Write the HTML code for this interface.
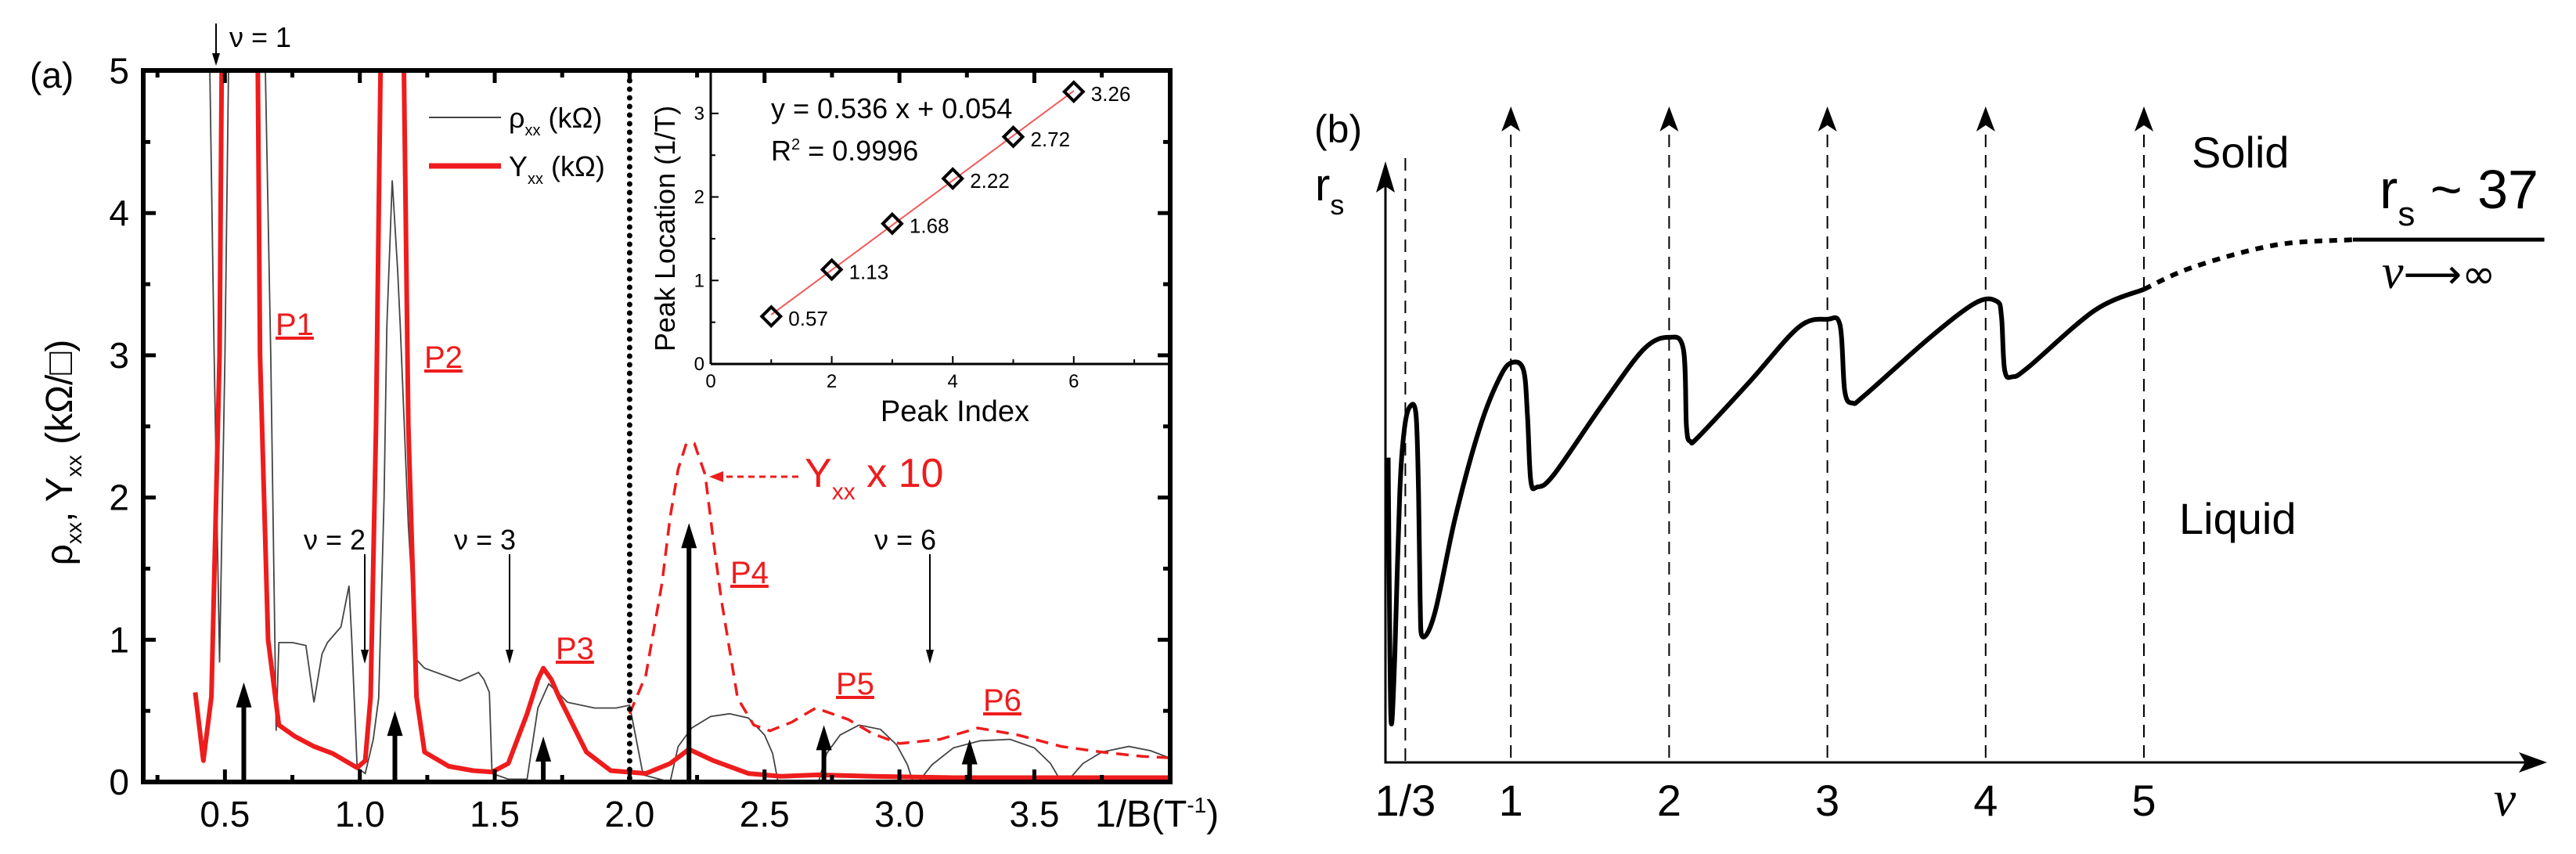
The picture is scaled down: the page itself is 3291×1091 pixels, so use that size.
<!DOCTYPE html>
<html><head><meta charset="utf-8"><style>
html,body{margin:0;padding:0;background:#fff}
svg{display:block;font-family:"Liberation Sans",sans-serif}
</style></head><body>
<svg id="fig" width="3291" height="1091" viewBox="0 0 3291 1091" xmlns="http://www.w3.org/2000/svg">
<defs><clipPath id="clipA"><rect x="183" y="90" width="1312" height="909"/></clipPath></defs>
<g id="panelA"></g>
<g id="panelB"></g>
</svg>
<script>
// ---------- Panel (a) data ----------
const redX=[0.39,0.42,0.45,0.48,0.49,0.52,0.6,0.62,0.63,0.66,0.70,0.76,0.83,0.90,0.99,1.02,1.04,1.06,1.08,1.12,1.16,1.18,1.21,1.24,1.33,1.42,1.49,1.55,1.62,1.66,1.68,1.71,1.74,1.84,1.93,2.06,2.15,2.22,2.31,2.44,2.56,2.7,2.9,3.2,3.6,4.0];
const redY=[0.63,0.15,0.6,3.0,5.5,8,8,5.5,3,1.0,0.40,0.32,0.25,0.2,0.10,0.15,0.6,2.5,5.5,8,5.5,2.5,0.6,0.21,0.11,0.08,0.07,0.13,0.48,0.72,0.80,0.72,0.59,0.21,0.08,0.06,0.13,0.23,0.15,0.06,0.04,0.05,0.04,0.03,0.03,0.03];
const dashX=[2.0,2.06,2.12,2.15,2.18,2.21,2.24,2.28,2.31,2.34,2.40,2.46,2.52,2.6,2.69,2.81,2.9,3.0,3.15,3.29,3.44,3.6,3.75,3.9,4.0];
const dashY=[0.48,0.75,1.4,1.86,2.2,2.38,2.38,2.16,1.7,1.28,0.59,0.40,0.36,0.42,0.52,0.44,0.34,0.27,0.30,0.38,0.33,0.25,0.21,0.18,0.17];
const rhoX=[0.44,0.46,0.48,0.50,0.52,0.6,0.64,0.67,0.69,0.70,0.75,0.80,0.83,0.86,0.88,0.93,0.96,0.97,0.99,1.02,1.05,1.07,1.09,1.10,1.12,1.14,1.15,1.18,1.21,1.24,1.37,1.44,1.46,1.48,1.49,1.55,1.62,1.66,1.70,1.77,1.87,1.95,2.0,2.05,2.15,2.18,2.23,2.3,2.37,2.44,2.5,2.53,2.55,2.70,2.73,2.78,2.85,2.93,2.99,3.03,3.05,3.07,3.12,3.2,3.3,3.41,3.5,3.56,3.6,3.62,3.68,3.75,3.85,3.93,4.0];
const rhoY=[5.5,3,0.84,3,6,6,6,3,0.36,0.98,0.98,0.96,0.56,0.9,0.98,1.09,1.38,1.0,0.10,0.06,0.3,0.59,2.0,3.2,4.23,3.6,3.2,1.8,0.86,0.80,0.71,0.77,0.72,0.63,0.06,0.02,0.02,0.52,0.69,0.56,0.52,0.52,0.54,0.05,0.0,0.25,0.38,0.46,0.48,0.45,0.33,0.2,0.0,0.0,0.2,0.33,0.40,0.37,0.26,0.12,0.0,0.0,0.12,0.24,0.29,0.30,0.24,0.13,0.0,0.0,0.13,0.21,0.25,0.22,0.17];
const arrX=[0.57,1.13,1.68,2.22,2.72,3.26];
const arrH=[0.70,0.50,0.32,1.82,0.40,0.30];
const xTicksA=[0.5,1.0,1.5,2.0,2.5,3.0,3.5];
const xTickLabelsA=["0.5","1.0","1.5","2.0","2.5","3.0","3.5"];
const yTicksA=[0,1,2,3,4,5];
const insetIdx=[1,2,3,4,5,6];
const insetLoc=[0.57,1.13,1.68,2.22,2.72,3.26];
const insetLabels=["0.57","1.13","1.68","2.22","2.72","3.26"];
const insetSlope=0.536, insetIntercept=0.054;
// ---------- Panel (b) data ----------
const nuB=[0.225,0.236,0.246,0.267,0.298,0.329,0.365,0.401,0.417,0.427,0.442,0.52,0.65,0.805,0.934,1.01,1.08,1.105,1.126,1.167,1.27,1.585,1.84,2.0,2.09,2.11,2.135,2.19,2.51,2.82,3.0,3.08,3.11,3.16,3.24,3.65,3.94,4.07,4.1,4.12,4.17,4.27,4.69,5.0];
const rsB=[50.9,18,6.4,18,45,56,59.5,58,45,27,21,25,41,56,64.5,66.8,65.5,58,47,46,48,60,69,71,69,56,53.6,54.5,63.6,72.7,74,73,62,60,61.4,71,76.8,77,74.5,65.5,64.4,66,75.5,79];
const nuDot=[5.0,5.31,5.83,6.32];
const rsDot=[79,82.7,86.4,87.3];
const nuTicksB=[1/3,1,2,3,4,5];
const nuTickLabelsB=["1/3","1","2","3","4","5"];

const NS="http://www.w3.org/2000/svg";
function mk(parent,tag,attrs,text){const e=document.createElementNS(NS,tag);for(const k in attrs)e.setAttribute(k,attrs[k]);if(text!==undefined)e.textContent=text;parent.appendChild(e);return e;}

const ax=v=>115+v*344.7, ay=v=>999-v*181.7;
const ix=v=>908+v*77.3, iy=v=>465-v*106.7;
const A=document.getElementById('panelA');

const clipG=mk(A,'g',{'clip-path':'url(#clipA)'});


function poly(xs,ys,fx,fy){return xs.map((x,i)=>(i?'L':'M')+fx(x).toFixed(1)+' '+fy(ys[i]).toFixed(1)).join(' ');}
const rho=mk(clipG,'path',{d:poly(rhoX,rhoY,ax,ay),fill:'none',stroke:'#444',"stroke-width":1.8});


const red=mk(clipG,'path',{d:poly(redX,redY,ax,ay),fill:'none',stroke:'#ee1c1c',"stroke-width":6,"stroke-linejoin":"round"});


const dsh=mk(clipG,'path',{d:poly(dashX,dashY,ax,ay),fill:'none',stroke:'#ee1c1c',"stroke-width":3.5,"stroke-dasharray":"16 10"});


const dv=mk(A,'line',{x1:ax(2),x2:ax(2),y1:92,y2:997,stroke:'#000',"stroke-width":7,"stroke-dasharray":"0 11","stroke-linecap":"round"});


arrX.forEach((x,i)=>{
  const g=mk(A,'g',{});
  
  
  const X=ax(x),top=ay(arrH[i]);
  mk(g,'line',{x1:X,x2:X,y1:999,y2:top+25,stroke:'#000',"stroke-width":6});
  mk(g,'path',{d:`M${X} ${top} L${X-10} ${top+32} L${X+10} ${top+32} Z`,fill:'#000'});
});
const fr=mk(A,'rect',{x:183,y:90,width:1312,height:909,fill:'none',stroke:'#000',"stroke-width":6});


for(let v=0.25;v<=3.76;v+=0.25){const X=ax(v),maj=Math.abs(v*2-Math.round(v*2))<1e-6,L=maj?16:9;
  mk(A,'line',{x1:X,x2:X,y1:999,y2:999-L,stroke:'#000',"stroke-width":5});
  mk(A,'line',{x1:X,x2:X,y1:90,y2:90+L,stroke:'#000',"stroke-width":5});}
for(let v=0.5;v<5;v+=0.5){const Y=ay(v),maj=Number.isInteger(v),L=maj?16:9;
  mk(A,'line',{x1:183,x2:183+L,y1:Y,y2:Y,stroke:'#000',"stroke-width":5});
  mk(A,'line',{x1:1495,x2:1495-L,y1:Y,y2:Y,stroke:'#000',"stroke-width":5});}
xTicksA.forEach((v,i)=>{const t=mk(A,'text',{x:ax(v),y:1056,"font-size":46,"text-anchor":"middle"},xTickLabelsA[i]);
  
  });
yTicksA.forEach(v=>{const t=mk(A,'text',{x:165,y:ay(v)+16,"font-size":46,"text-anchor":"end"},String(v));
  
  });
const I=mk(A,'g',{});


mk(I,'line',{x1:ix(0),x2:ix(0),y1:92,y2:iy(0),stroke:'#000',"stroke-width":3});
mk(I,'line',{x1:ix(0),x2:1492,y1:iy(0),y2:iy(0),stroke:'#000',"stroke-width":3});
for(let v=0;v<=7;v++){const X=ix(v),L=v%2==0?10:6;mk(I,'line',{x1:X,x2:X,y1:iy(0),y2:iy(0)-L,stroke:'#000',"stroke-width":2});}
for(let v=0;v<=3.01;v+=0.5){const Y=iy(v),L=Number.isInteger(v)?10:6;mk(I,'line',{x1:ix(0),x2:ix(0)+L,y1:Y,y2:Y,stroke:'#000',"stroke-width":2});}
[0,2,4,6].forEach(v=>{const t=mk(I,'text',{x:ix(v),y:iy(0)+30,"font-size":24,"text-anchor":"middle"},String(v));
  
  });
[0,1,2,3].forEach(v=>{const t=mk(I,'text',{x:ix(0)-8,y:iy(v)+8,"font-size":24,"text-anchor":"end"},String(v));
  
  });
const fit=mk(I,'line',{x1:ix(1),y1:iy(insetSlope*1+insetIntercept),x2:ix(6),y2:iy(insetSlope*6+insetIntercept),stroke:'#f25a5a',"stroke-width":2});


insetIdx.forEach((x,i)=>{const X=ix(x),Y=iy(insetLoc[i]);
  const p=mk(I,'path',{d:`M${X} ${Y-12} L${X+12} ${Y} L${X} ${Y+12} L${X-12} ${Y} Z`,fill:'none',stroke:'#000',"stroke-width":4});
  
  
  const t=mk(I,'text',{x:X+22,y:Y+12,"font-size":26},insetLabels[i]);
  
  });
let t;
t=mk(I,'text',{x:985,y:151,"font-size":36},'y = 0.536 x + 0.054');
t=mk(I,'text',{x:985,y:205,"font-size":36},'R');
mk(t,'tspan',{dy:-14,"font-size":20},'2');mk(t,'tspan',{dy:14},' = 0.9996');
t=mk(I,'text',{x:1220,y:538,"font-size":38,"text-anchor":"middle"},'Peak Index');
t=mk(I,'text',{x:0,y:0,"font-size":36,"text-anchor":"middle",transform:'translate(862,292) rotate(-90)'},'Peak Location (1/T)');
const lg=mk(A,'g',{});
mk(lg,'line',{x1:548,x2:640,y1:150,y2:150,stroke:'#444',"stroke-width":2});
t=mk(lg,'text',{x:650,y:163,"font-size":36},'ρ');mk(t,'tspan',{dy:10,"font-size":20},'xx');mk(t,'tspan',{dy:-10},' (kΩ)');
mk(lg,'line',{x1:548,x2:640,y1:212,y2:212,stroke:'#ee1c1c',"stroke-width":7});
t=mk(lg,'text',{x:650,y:225,"font-size":36},'Y');mk(t,'tspan',{dy:10,"font-size":20},'xx');mk(t,'tspan',{dy:-10},' (kΩ)');
function label(x,y,s,name,size,color,anchor){const e=mk(A,'text',{x:x,y:y,"font-size":size||38,fill:color||'#000',"text-anchor":anchor||'start'},s);return e;}
label(38,112,'(a)','panel-a-label',46);
label(293,60,'ν = 1','nu-1-label',36);
mk(A,'line',{x1:276,x2:276,y1:30,y2:78,stroke:'#000',"stroke-width":2});mk(A,'path',{d:'M276 84 L271 68 L281 68 Z',fill:'#000'});
[[388,466,'ν = 2'],[580,651,'ν = 3'],[1117,1188,'ν = 6']].forEach(a=>{label(a[0],702,a[2],'nu-annotation',36);
  mk(A,'line',{x1:a[1],x2:a[1],y1:708,y2:840,stroke:'#000',"stroke-width":2});mk(A,'path',{d:`M${a[1]} 848 L${a[1]-5} 830 L${a[1]+5} 830 Z`,fill:'#000'});});
[[352,428,'P1'],[542,470,'P2'],[710,842,'P3'],[933,745,'P4'],[1068,887,'P5'],[1256,908,'P6']].forEach(p=>{
  const e=label(p[0],p[1],p[2],'peak-label-'+p[2].toLowerCase(),40,'#ee1c1c');e.setAttribute('text-decoration','underline');});
t=label(1028,622,'Y','y-xx-x10-label',52,'#ee1c1c');mk(t,'tspan',{dy:16,"font-size":30},'xx');mk(t,'tspan',{dy:-16},' x 10');
mk(A,'line',{x1:1020,x2:918,y1:609,y2:609,stroke:'#ee1c1c',"stroke-width":3,"stroke-dasharray":"8 6"});
mk(A,'path',{d:'M906 609 L924 602 L924 616 Z',fill:'#ee1c1c'});
t=label(1399,1056,'1/B(T','x-axis-title',48);mk(t,'tspan',{dy:-18,"font-size":28},'-1');mk(t,'tspan',{dy:18},')');
t=mk(A,'text',{x:0,y:0,"font-size":48,"text-anchor":"middle",transform:'translate(92,578) rotate(-90)'},'ρ');

mk(t,'tspan',{dy:12,"font-size":28},'xx');mk(t,'tspan',{dy:-12},', Y');mk(t,'tspan',{dy:12,"font-size":28},'xx');mk(t,'tspan',{dy:-12},' (kΩ/□)');

// ---------- Panel (b) ----------
const B=document.getElementById('panelB');
const bx=n=>1728+n*202.2, by=v=>974-v*7.65;
function smooth(xs,ys){const P=xs.map((x,i)=>[bx(x),by(ys[i])]);let d='M'+P[0][0].toFixed(1)+' '+P[0][1].toFixed(1);
  for(let i=0;i<P.length-1;i++){const p0=P[Math.max(0,i-1)],p1=P[i],p2=P[i+1],p3=P[Math.min(P.length-1,i+2)];
    const c1=[p1[0]+(p2[0]-p0[0])/6,p1[1]+(p2[1]-p0[1])/6],c2=[p2[0]-(p3[0]-p1[0])/6,p2[1]-(p3[1]-p1[1])/6];
    d+=` C${c1[0].toFixed(1)} ${c1[1].toFixed(1)} ${c2[0].toFixed(1)} ${c2[1].toFixed(1)} ${p2[0].toFixed(1)} ${p2[1].toFixed(1)}`;}return d;}
nuTicksB.forEach((n,i)=>{const X=bx(n);
  const l=mk(B,'line',{x1:X,x2:X,y1:i===0?202:172,y2:974,stroke:'#000',"stroke-width":2,"stroke-dasharray":"16 10"});
  
  
  if(i>0){mk(B,'path',{d:`M${X} 136 L${X-12} 168 L${X} 160 L${X+12} 168 Z`,fill:'#000'});}
  const tl=mk(B,'text',{x:X,y:1042,"font-size":56,"text-anchor":"middle"},nuTickLabelsB[i]);
  
  });
const axs=mk(B,'path',{d:'M1770 212 L1770 974 L3240 974',fill:'none',stroke:'#000',"stroke-width":3});

mk(B,'path',{d:'M1770 206 L1758 246 L1770 238 L1782 246 Z',fill:'#000'});
mk(B,'path',{d:'M3254 974 L3218 961 L3226 974 L3218 987 Z',fill:'#000'});
const cb=mk(B,'path',{d:smooth(nuB,rsB),fill:'none',stroke:'#000',"stroke-width":6,"stroke-linejoin":"round"});

const cd=mk(B,'path',{d:smooth(nuDot,rsDot),fill:'none',stroke:'#000',"stroke-width":6,"stroke-dasharray":"10 9"});

const lim=mk(B,'line',{x1:bx(6.32),x2:bx(7.53),y1:by(87.3),y2:by(87.3),stroke:'#000',"stroke-width":5});

function lb(x,y,s,name,size,extra){const e=mk(B,'text',Object.assign({x:x,y:y,"font-size":size},extra||{}),s);return e;}
lb(1679,182,'(b)','panel-b-label',50);
t=lb(1680,256,'r','y-axis-title-rs',58);mk(t,'tspan',{dy:18,"font-size":36},'s');
lb(2800,214,'Solid','solid-label',56);
lb(2784,682,'Liquid','liquid-label',56);
t=lb(3040,266,'r','rs-37-label',70);mk(t,'tspan',{dy:22,"font-size":44},'s');mk(t,'tspan',{dy:-22},' ~ 37');
t=lb(3043,368,'ν','nu-infinity-label',62,{"font-family":'"Liberation Serif",serif',"font-style":"italic"});mk(t,'tspan',{"font-style":"normal","font-family":'"DejaVu Sans",sans-serif',"font-size":52},'⟶∞');
lb(3200,1042,'ν','x-axis-title-nu',64,{"font-family":'"Liberation Serif",serif',"font-style":"italic","text-anchor":"middle"});
</script>
</body></html>
